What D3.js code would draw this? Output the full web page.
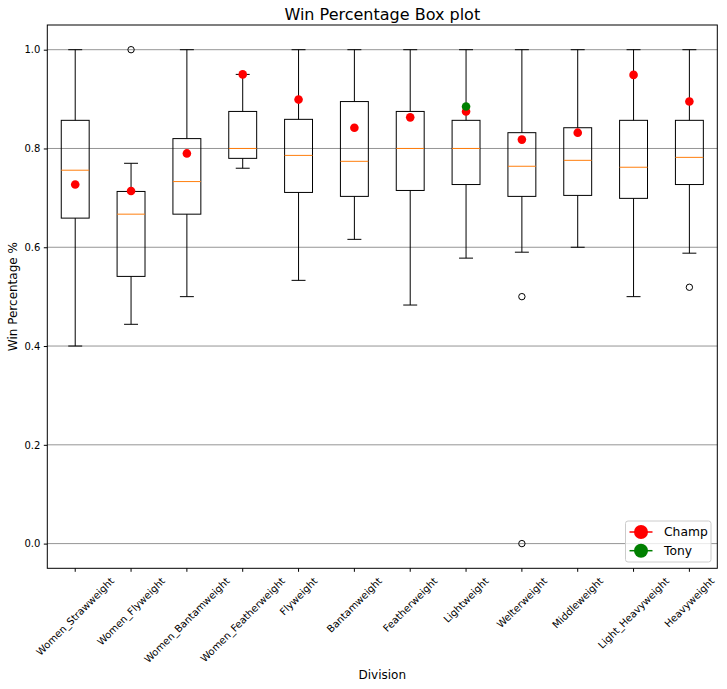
<!DOCTYPE html>
<html><head><meta charset="utf-8">
<script src="https://cdn.jsdelivr.net/npm/d3@7"></script>
<style>body{margin:0;background:#fff;} svg{display:block;font-family:"DejaVu Sans",sans-serif;}</style>
</head><body>
<svg id="chart" width="727" height="689"></svg>
<script>
const categories = ["Women_Strawweight","Women_Flyweight","Women_Bantamweight","Women_Featherweight","Flyweight","Bantamweight","Featherweight","Lightweight","Welterweight","Middleweight","Light_Heavyweight","Heavyweight"];
const whiskerLow  = [0.400,0.444,0.500,0.760,0.533,0.616,0.483,0.578,0.590,0.600,0.500,0.588];
const q1          = [0.659,0.541,0.667,0.780,0.711,0.703,0.715,0.727,0.703,0.705,0.699,0.727];
const medians     = [0.756,0.667,0.733,0.800,0.786,0.774,0.800,0.800,0.764,0.776,0.762,0.782];
const q3          = [0.857,0.713,0.820,0.875,0.859,0.895,0.875,0.857,0.832,0.842,0.857,0.857];
const whiskerHigh = [1.000,0.770,1.000,0.950,1.000,1.000,1.000,1.000,1.000,1.000,1.000,1.000];
const outliers    = [[],[1.0],[],[],[],[],[],[],[0.5,0.0],[],[],[0.519]];
const champ       = [0.727,0.714,0.790,0.950,0.899,0.842,0.863,0.875,0.818,0.832,0.949,0.895];
const tony        = [null,null,null,null,null,null,null,0.885,null,null,null,null];
const yTicks      = [0.0,0.2,0.4,0.6,0.8,1.0];

const svg = d3.select("#chart");
const L = 47.3, R = 717.3, T = 25, B = 568.3;
const x = d3.scaleLinear().domain([0.5, categories.length + 0.5]).range([L, R]);
const y = d3.scaleLinear().domain([-0.05, 1.05]).range([B, T]);
const step = x(2) - x(1);
const boxW = step * 0.5, capW = step * 0.25;

// grid
svg.append("g").selectAll("line").data(yTicks).join("line")
  .attr("x1", L).attr("x2", R).attr("y1", d => y(d)).attr("y2", d => y(d))
  .attr("stroke", "#959595").attr("stroke-width", 1);

// boxes
const g = svg.append("g");
categories.forEach((c, i) => {
  const cx = x(i + 1);
  const gg = g.append("g");
  // whiskers
  gg.append("line").attr("x1", cx).attr("x2", cx).attr("y1", y(q3[i])).attr("y2", y(whiskerHigh[i])).attr("stroke", "#000");
  gg.append("line").attr("x1", cx).attr("x2", cx).attr("y1", y(q1[i])).attr("y2", y(whiskerLow[i])).attr("stroke", "#000");
  gg.append("line").attr("x1", cx - capW/2).attr("x2", cx + capW/2).attr("y1", y(whiskerHigh[i])).attr("y2", y(whiskerHigh[i])).attr("stroke", "#000");
  gg.append("line").attr("x1", cx - capW/2).attr("x2", cx + capW/2).attr("y1", y(whiskerLow[i])).attr("y2", y(whiskerLow[i])).attr("stroke", "#000");
  gg.append("rect").attr("x", cx - boxW/2).attr("width", boxW)
    .attr("y", y(q3[i])).attr("height", y(q1[i]) - y(q3[i]))
    .attr("fill", "none").attr("stroke", "#000");
  gg.append("line").attr("x1", cx - boxW/2).attr("x2", cx + boxW/2).attr("y1", y(medians[i])).attr("y2", y(medians[i]))
    .attr("stroke", "#ff7f0e");
  outliers[i].forEach(v => {
    gg.append("circle").attr("cx", cx).attr("cy", y(v)).attr("r", 3.2)
      .attr("fill", "none").attr("stroke", "#000").attr("stroke-width", 1);
  });
});

// champ / tony points
svg.append("g").selectAll("circle").data(champ).join("circle")
  .attr("cx", (d, i) => x(i + 1)).attr("cy", d => y(d)).attr("r", 4.3).attr("fill", "#ff0000");
svg.append("g").selectAll("circle").data(tony.map((v, i) => ({v, i})).filter(d => d.v !== null)).join("circle")
  .attr("cx", d => x(d.i + 1)).attr("cy", d => y(d.v)).attr("r", 4.3).attr("fill", "#008000");

// frame
svg.append("rect").attr("x", L).attr("y", T).attr("width", R - L).attr("height", B - T)
  .attr("fill", "none").attr("stroke", "#000").attr("stroke-width", 1);

// y axis
const yAxis = svg.append("g").attr("transform", `translate(${L},0)`)
  .call(d3.axisLeft(y).tickValues(yTicks).tickFormat(d3.format(".1f")).tickSize(3.5).tickPadding(3.5));
yAxis.select(".domain").remove();
yAxis.selectAll("text").attr("font-size", 10).attr("font-family", "DejaVu Sans").attr("fill", "#000");
yAxis.selectAll("line").attr("stroke", "#000");

// x axis ticks
const xt = svg.append("g");
categories.forEach((c, i) => {
  const cx = x(i + 1);
  xt.append("line").attr("x1", cx).attr("x2", cx).attr("y1", B).attr("y2", B + 3.5).attr("stroke", "#000");
  const t = xt.append("text").text(c).attr("font-size", 10).attr("fill", "#000")
    .attr("text-anchor", "middle").attr("dominant-baseline", "central");
  const len = t.node().getComputedTextLength();
  const h = 11.5;
  const bboxH = (len + h) * Math.SQRT1_2;
  const cy = B + 3.5 + 3.5 + bboxH / 2;
  t.attr("transform", `translate(${cx},${cy}) rotate(-45)`);
});

// titles
svg.append("text").attr("x", (L + R) / 2).attr("y", 19.5).attr("text-anchor", "middle")
  .attr("font-size", 16).attr("fill", "#000").text("Win Percentage Box plot");
svg.append("text").attr("x", (L + R) / 2).attr("y", 679).attr("text-anchor", "middle")
  .attr("font-size", 12).attr("fill", "#000").text("Division");
svg.append("text").attr("transform", `translate(17,${(T + B) / 2}) rotate(-90)`).attr("text-anchor", "middle")
  .attr("font-size", 12).attr("fill", "#000").text("Win Percentage %");

// legend
const legendItems = [{name: "Champ", color: "#ff0000"}, {name: "Tony", color: "#008000"}];
const lg = svg.append("g");
lg.append("rect").attr("x", 625.5).attr("y", 521).attr("width", 85.5).attr("height", 41).attr("rx", 2.5)
  .attr("fill", "#fff").attr("fill-opacity", 0.8).attr("stroke", "#cccccc");
legendItems.forEach((d, i) => {
  const cy = 532 + i * 18.7;
  lg.append("line").attr("x1", 629.5).attr("x2", 652.5).attr("y1", cy).attr("y2", cy).attr("stroke", d.color).attr("stroke-width", 1.5);
  lg.append("circle").attr("cx", 641).attr("cy", cy).attr("r", 7).attr("fill", d.color);
  lg.append("text").attr("x", 664).attr("y", cy).attr("dy", "0.35em").attr("font-size", 12.3).attr("fill", "#000").text(d.name);
});
</script>
</body></html>
